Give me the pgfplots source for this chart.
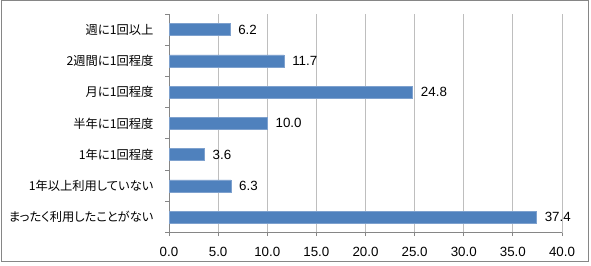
\documentclass[border=0pt]{standalone}
\usepackage{pgfplots}
\pgfplotsset{compat=1.18}
\usepackage{fontspec}
\setmainfont{Liberation Sans}
\newfontfamily\jp[RawFeature=+palt]{Noto Sans CJK JP}
\definecolor{barblue}{HTML}{4F81BD}
\definecolor{baredge}{HTML}{7EA1CE}
\definecolor{gridgray}{HTML}{BEBEBE}
\definecolor{axgray}{HTML}{868686}
\begin{document}
\begin{tikzpicture}[x=0.75pt,y=0.75pt]
\useasboundingbox (0,0) rectangle (591,265);
\draw[axgray, line width=0.75pt] (1,4) rectangle (588,264);
\begin{axis}[
  at={(169*0.75pt,32.3*0.75pt)}, anchor=south west,
  scale only axis,
  width=393*0.75pt, height=218.7*0.75pt,
  xbar, bar width=9pt,
  xmin=0, xmax=40, ymin=0.5, ymax=7.5,
  y dir=reverse,
  axis line style={axgray, line width=0.75pt},
  axis x line*=bottom, axis y line*=left,
  xtick={0,5,...,40},
  xmajorgrids, grid style={gridgray, line width=0.75pt},
  tick align=outside,
  x tick style={axgray, line width=0.75pt},
  major tick length=2.5pt,
  xticklabel style={font=\fontsize{10}{12}\selectfont, inner sep=0pt, yshift=-8pt},
  /pgf/number format/assume math mode=true,
  xticklabel={\pgfmathprintnumber[fixed,fixed zerofill,precision=1]{\tick}},
  ytick={1,...,7},
  yticklabels={週に1回以上,2週間に1回程度,月に1回程度,半年に1回程度,1年に1回程度,1年以上利用していない,まったく利用したことがない},
  y tick style={draw=none},
  yticklabel style={font=\jp\fontsize{9.2}{11}\selectfont, anchor=east, inner sep=0pt, xshift=-9pt},
  extra y ticks={0.5,1.5,...,7.5},
  extra y tick labels={},
  extra y tick style={y tick style={draw=axgray, line width=0.75pt}, major tick length=3pt, ymajorgrids=false},
  nodes near coords,
  nodes near coords style={font=\fontsize{10}{12}\selectfont, anchor=west, inner sep=0pt, xshift=6pt, black},
  every node near coord/.append style={/pgf/number format/.cd, fixed, fixed zerofill, precision=1},
  clip=false,
]
\addplot[fill=barblue, draw=baredge, line width=0.5pt] coordinates {
(6.2,1) (11.7,2) (24.8,3) (10.0,4) (3.6,5) (6.3,6) (37.4,7)};
\end{axis}
\end{tikzpicture}
\end{document}
